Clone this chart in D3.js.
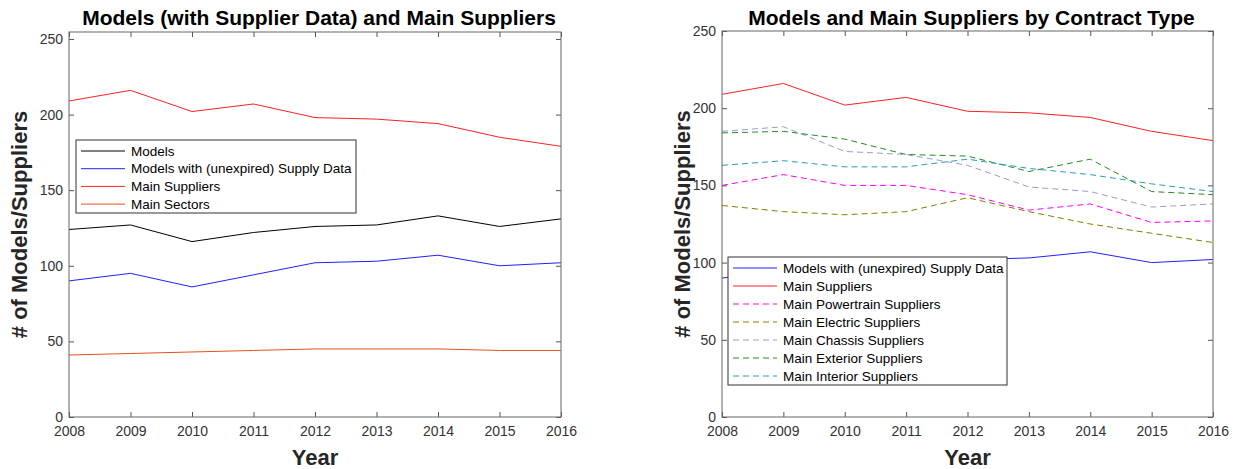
<!DOCTYPE html>
<html lang="en">
<head>
    <meta charset="UTF-8">
    <title>Models and Main Suppliers</title>
    <script src="https://d3js.org/d3.v7.min.js"></script>
    <style>
        body { margin: 0; background: #fff; }
        text { font-family: "Liberation Sans", Arial, sans-serif; }
        .tick text { font-size: 14px; fill: #333; }
        .tick line { stroke: #555; }
        .title { font-size: 21px; font-weight: bold; fill: #000; }
        .axis-label { font-size: 22px; font-weight: bold; fill: #262626; }
        .legend text { font-size: 13.5px; fill: #000; }
    </style>
</head>
<body>
<div id="chart"></div>
<script>
    // Data
    const years = [2008, 2009, 2010, 2011, 2012, 2013, 2014, 2015, 2016];
    const models       = [124, 127, 116, 122, 126, 127, 133, 126, 131];
    const modelsSupply = [90, 95, 86, 94, 102, 103, 107, 100, 102];
    const mainSuppliers = [209, 216, 202, 207, 198, 197, 194, 185, 179];
    const mainSectors  = [41, 42, 43, 44, 45, 45, 45, 44, 44];
    const powertrain = [150, 157, 150, 150, 144, 134, 138, 126, 127];
    const electric   = [137, 133, 131, 133, 142, 133, 125, 119, 113];
    const chassis    = [185, 188, 172, 170, 163, 149, 146, 136, 138];
    const exterior   = [184, 185, 180, 170, 169, 159, 167, 146, 144];
    const interior   = [163, 166, 162, 162, 167, 161, 157, 151, 146];
    const yTicks = [0, 50, 100, 150, 200, 250];

    const W = 1235, H = 469;
    const svg = d3.select("#chart").append("svg")
        .attr("width", W)
        .attr("height", H);

    const panels = [
        {
            title: "Models (with Supplier Data) and Main Suppliers",
            x0: 69, x1: 561, y0: 417, yTop: 32, yMax: 254.6,
            ylabelX: 20,
            legend: {x: 76, y: 140, w: 280, h: 73, row: 17.7},
            series: [
                {name: "Models", values: models, color: "#000000", dash: null},
                {name: "Models with (unexpired) Supply Data", values: modelsSupply, color: "#2020ff", dash: null},
                {name: "Main Suppliers", values: mainSuppliers, color: "#ff2020", dash: null},
                {name: "Main Sectors", values: mainSectors, color: "#e8501a", dash: null}
            ]
        },
        {
            title: "Models and Main Suppliers by Contract Type",
            x0: 722, x1: 1213, y0: 417, yTop: 31, yMax: 250,
            ylabelX: 683,
            legend: {x: 728, y: 257, w: 279, h: 128, row: 18},
            series: [
                {name: "Models with (unexpired) Supply Data", values: modelsSupply, color: "#2020ff", dash: null},
                {name: "Main Suppliers", values: mainSuppliers, color: "#ff2020", dash: null},
                {name: "Main Powertrain Suppliers", values: powertrain, color: "#ff00ff", dash: "6,4"},
                {name: "Main Electric Suppliers", values: electric, color: "#808000", dash: "6,4"},
                {name: "Main Chassis Suppliers", values: chassis, color: "#9a9acc", dash: "6,4"},
                {name: "Main Exterior Suppliers", values: exterior, color: "#228b22", dash: "6,4"},
                {name: "Main Interior Suppliers", values: interior, color: "#2a9ac0", dash: "6,4"}
            ]
        }
    ];

    panels.forEach(p => {
        const x = d3.scaleLinear().domain([2008, 2016]).range([p.x0, p.x1]);
        const y = d3.scaleLinear().domain([0, p.yMax]).range([p.y0, p.yTop]);
        const g = svg.append("g");

        // lines
        const line = d3.line()
            .x((d, i) => x(years[i]))
            .y(d => y(d));

        p.series.forEach(s => {
            g.append("path")
                .attr("d", line(s.values))
                .attr("fill", "none")
                .attr("stroke", s.color)
                .attr("stroke-width", 1)
                .attr("stroke-dasharray", s.dash);
        });

        // axes, ticks pointing inward
        const tk = 5;
        const bottom = g.append("g")
            .attr("transform", `translate(0,${p.y0})`)
            .call(d3.axisBottom(x).tickValues(years).tickFormat(d3.format("d"))
                .tickSizeInner(-tk).tickSizeOuter(0).tickPadding(9));
        const top = g.append("g")
            .attr("transform", `translate(0,${p.yTop})`)
            .call(d3.axisTop(x).tickValues(years).tickFormat("")
                .tickSizeInner(-tk).tickSizeOuter(0));
        const left = g.append("g")
            .attr("transform", `translate(${p.x0},0)`)
            .call(d3.axisLeft(y).tickValues(yTicks)
                .tickSizeInner(-tk).tickSizeOuter(0).tickPadding(6));
        const right = g.append("g")
            .attr("transform", `translate(${p.x1},0)`)
            .call(d3.axisRight(y).tickValues(yTicks).tickFormat("")
                .tickSizeInner(-tk).tickSizeOuter(0));
        [bottom, top, left, right].forEach(a => a.select(".domain").remove());

        // box
        g.append("rect")
            .attr("x", p.x0).attr("y", p.yTop)
            .attr("width", p.x1 - p.x0).attr("height", p.y0 - p.yTop)
            .attr("fill", "none").attr("stroke", "#666").attr("stroke-width", 1);

        // title and labels
        g.append("text").attr("class", "title")
            .attr("x", (p.x0 + p.x1) / 2 + 4).attr("y", 25)
            .attr("text-anchor", "middle").text(p.title);
        g.append("text").attr("class", "axis-label")
            .attr("x", (p.x0 + p.x1) / 2).attr("y", 465)
            .attr("text-anchor", "middle").text("Year");
        g.append("text").attr("class", "axis-label")
            .attr("transform", `translate(${p.ylabelX + 7},${(p.y0 + p.yTop) / 2}) rotate(-90)`)
            .attr("text-anchor", "middle").text("# of Models/Suppliers");

        // legend
        const L = p.legend;
        const lg = g.append("g").attr("class", "legend");
        lg.append("rect")
            .attr("x", L.x).attr("y", L.y).attr("width", L.w).attr("height", L.h)
            .attr("fill", "#fff").attr("stroke", "#333").attr("stroke-width", 1);
        p.series.forEach((s, i) => {
            const cy = L.y + 10 + L.row * i + 1;
            lg.append("line")
                .attr("x1", L.x + 5).attr("x2", L.x + 49)
                .attr("y1", cy).attr("y2", cy)
                .attr("stroke", s.color).attr("stroke-width", 1)
                .attr("stroke-dasharray", s.dash);
            lg.append("text")
                .attr("x", L.x + 55).attr("y", cy)
                .attr("dy", "0.35em").text(s.name);
        });
    });
</script>
</body>
</html>
